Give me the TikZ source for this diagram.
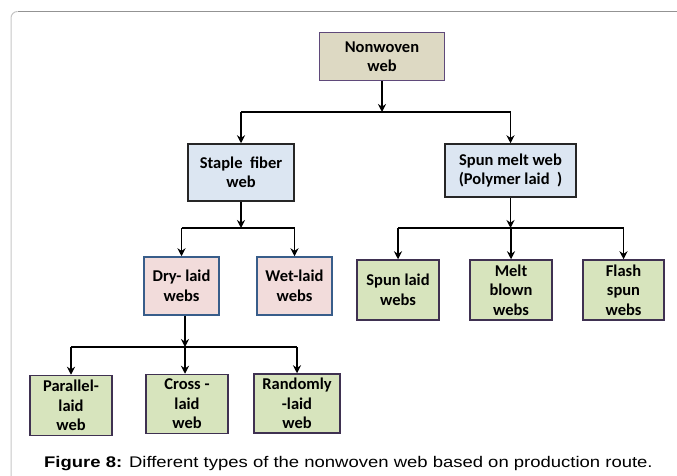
\documentclass[tikz,border=0pt]{standalone}
\usepackage{fontspec}
\setmainfont{Carlito}
\newfontfamily\capfont[FakeStretch=1.2]{Liberation Sans}
\usetikzlibrary{arrows.meta}

\definecolor{tancol}{HTML}{DDD9C3}
\definecolor{purplecol}{HTML}{5F497A}
\definecolor{bluecol}{HTML}{DCE6F2}
\definecolor{pinkcol}{HTML}{F2DCDB}
\definecolor{edgeblue}{HTML}{385D8A}
\definecolor{greencol}{HTML}{D7E4BD}
\definecolor{edgegreen}{HTML}{3F3151}

\tikzset{
  box/.style={draw, line width=1.5pt, align=center, inner sep=0pt,
    font=\fontsize{16.5}{19.5}\selectfont\bfseries},
  tanbox/.style={box, fill=tancol, draw=purplecol},
  bluebox/.style={box, fill=bluecol, draw=black!85},
  pinkbox/.style={box, fill=pinkcol, draw=edgeblue},
  greenbox/.style={box, fill=greencol, draw=edgegreen},
  link/.style={line width=1.5pt, draw=black},
  arr/.style={link, -{Stealth[length=8pt,width=8pt]}}
}

\begin{document}
\begin{tikzpicture}[x=1pt,y=-1pt]
\useasboundingbox (0,0) rectangle (677,476);

% Drawing frame
\draw [line width=1pt, gray!45] (11,480) -- (11,18) arc (180:270:6.5);
\draw [line width=1pt, gray!85] (17.5,11.5) -- (677,11.5);

% Drawing boxes
\node [tanbox, minimum width=125, minimum height=48] (nw) at (382,56.7) {Nonwoven\\web};
\node [bluebox, minimum width=106, minimum height=57] (staple) at (241,172.5) {Staple~ fiber\\web};
\node [bluebox, minimum width=131, minimum height=53] (spun) at (510.5,170.5) {Spun melt web\\(Polymer laid~ )};
\node [pinkbox, minimum width=75, minimum height=58] (dry) at (181.5,286) {Dry- laid\\webs};
\node [pinkbox, minimum width=75, minimum height=58] (wet) at (294.5,286) {Wet-laid\\webs};
\node [greenbox, minimum width=82, minimum height=60] (spunlaid) at (398,290) {Spun laid\\webs};
\node [greenbox, minimum width=82, minimum height=60] (melt) at (511,290) {Melt\\blown\\webs};
\node [greenbox, minimum width=81, minimum height=60] (flash) at (623.5,290) {Flash\\spun\\webs};
\node [greenbox, minimum width=82, minimum height=60] (parallel) at (71,405.5) {Parallel-\\laid\\web};
\node [greenbox, minimum width=82, minimum height=59] (cross) at (187,404) {Cross -\\laid\\web};
\node [greenbox, minimum width=86, minimum height=59] (random) at (297,403.5) {Randomly\\-laid\\web};

% Drawing bus lines
\coordinate (b1) at (382,112);
\coordinate (b2) at (241,228);
\coordinate (b3) at (510.5,228);
\coordinate (b4) at (185,347);

\draw [arr] (nw) -- (b1);
\draw [link] (b1 -| staple) -- (b1 -| spun);
\draw [arr] (b1 -| staple) -- (staple);
\draw [arr] (b1 -| spun) -- (spun);

\draw [arr] (staple) -- (b2);
\draw [link] (b2 -| dry) -- (b2 -| wet);
\draw [arr] (b2 -| dry) -- (dry);
\draw [arr] (b2 -| wet) -- (wet);

\draw [arr] (spun) -- (b3);
\draw [link] (b3 -| spunlaid) -- (b3 -| flash);
\draw [arr] (b3 -| spunlaid) -- (spunlaid);
\draw [arr] (b3 -| melt) -- (melt);
\draw [arr] (b3 -| flash) -- (flash);

\draw [arr] (dry.south -| b4) -- (b4);
\draw [link] (b4 -| parallel) -- (b4 -| random);
\draw [arr] (b4 -| parallel) -- (parallel);
\draw [arr] (b4) -- (cross.north -| b4);
\draw [arr] (b4 -| random) -- (random);

% Caption
\node [anchor=base west, inner sep=0pt, font=\capfont\fontsize{15.4}{18}\selectfont] (cap) at (44,467.5)
  {\textbf{Figure 8:} Different types of the nonwoven web based on production route.};
\end{tikzpicture}
\end{document}
